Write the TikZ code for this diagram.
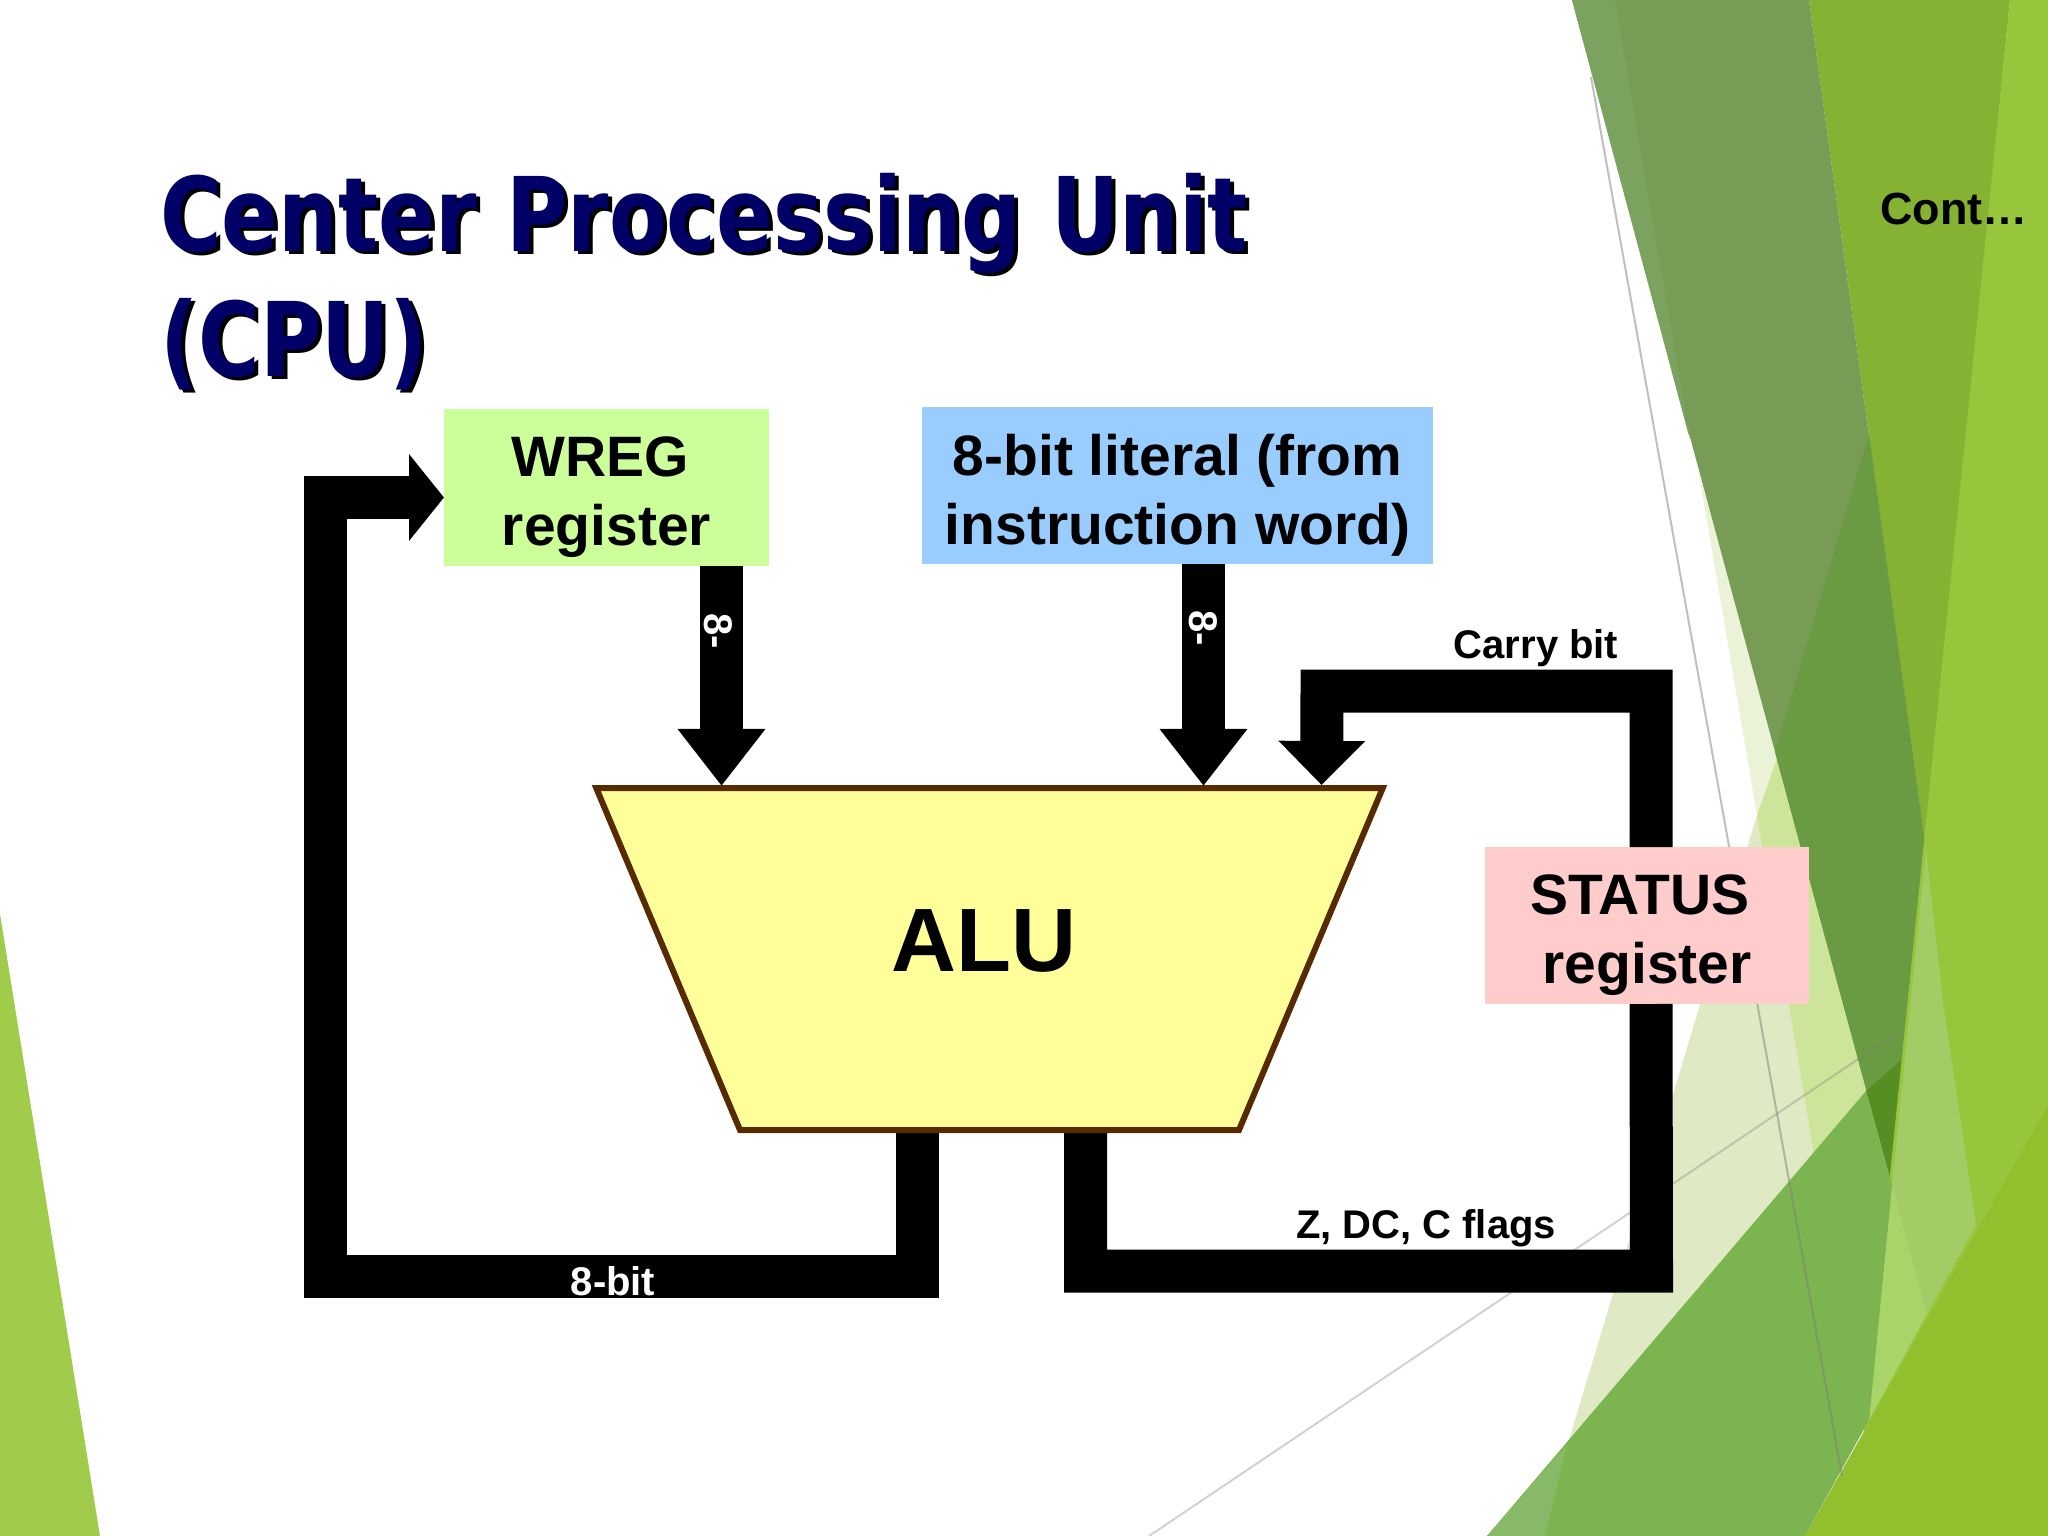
\documentclass[tikz,border=0pt]{standalone}
\usepackage{fontspec}
\usepackage{tikz}
\usetikzlibrary{arrows.meta,shapes.geometric}
\setmainfont{Liberation Sans}
\newfontfamily\titlefont[FakeStretch=0.815]{DejaVu Sans}
\newcommand{\regstrut}{\rule{0pt}{60pt}}
\definecolor{titleblue}{HTML}{000066}
\definecolor{wregfill}{HTML}{CCFF99}
\definecolor{literalfill}{HTML}{99CCFF}
\definecolor{statusfill}{HTML}{FFCCCC}
\definecolor{alufill}{HTML}{FFFF99}
\definecolor{aluedge}{HTML}{572A00}
\begin{document}
\begin{tikzpicture}[x=1pt,y=-1pt,
    regbox/.style={minimum width=325pt,minimum height=157pt,inner sep=0pt,outer sep=0pt,align=center,font=\bfseries\fontsize{57}{69}\selectfont},
    busline/.style={line width=43pt,line cap=butt,line join=miter,color=black},
    bighead/.style={-{Triangle[width=84pt,length=57pt]}},
    smallhead/.style={-{Triangle[width=84pt,length=44pt]}},
    shorthead/.style={-{Triangle[width=85pt,length=35pt]}},
    buslabel/.style={font=\bfseries\fontsize{40}{48}\selectfont,inner sep=0pt},
    titletext/.style={anchor=base west,inner sep=0pt,font=\titlefont\bfseries\fontsize{103}{124}\selectfont}]
    \useasboundingbox (0,0) rectangle (2048,1536);
    \fill[white] (0,0) rectangle (2048,1536);
    \fill[color={rgb,255:red,160;green,203;blue,75}] (0,914) -- (100,1536) -- (0,1536) -- cycle;
    \fill[color={rgb,255:red,234;green,242;blue,216}] (1699,474) -- (1757,815) -- (1780,750) -- cycle;
    \fill[color={rgb,255:red,223;green,233;blue,195}] (1757,815) -- (1560,1470) -- (1830,1160) -- cycle;
    \fill[color={rgb,255:red,205;green,229;blue,154}] (1757,815) -- (1780,750) -- (1875,1091) -- (1820,1190) -- cycle;
    \fill[color={rgb,255:red,133;green,178;blue,51}] (1809,0) -- (2010,0) -- (1926,850) -- cycle;
    \fill[color={rgb,255:red,120;green,156;blue,86}] (1572,0) -- (1809,0) -- (1926,850) -- (1892,1185) -- cycle;
    \fill[color={rgb,255:red,123;green,163;blue,95}] (1572,0) -- (1615,0) -- (1690,440) -- cycle;
    \fill[color={rgb,255:red,106;green,154;blue,66}] (1869,434) -- (1775,752) -- (1892,1185) -- (1926,850) -- cycle;
    \fill[color={rgb,255:red,85;green,143;blue,36}] (1866,1091) -- (1917,1046) -- (1892,1185) -- cycle;
    \fill[color={rgb,255:red,151;green,198;blue,61}] (2010,0) -- (2048,0) -- (2048,1536) -- (1853,1536) -- cycle;
    \fill[color={rgb,255:red,163;green,204;blue,102}] (1926,850) -- (1943,1002) -- (1976,1225) -- (1927,1314) -- (1892,1185) -- cycle;
    \fill[color={rgb,255:red,168;green,212;blue,106}] (1892,1185) -- (1927,1314) -- (1869,1420) -- cycle;
    \fill[color={rgb,255:red,146;green,191;blue,46}] (2048,1105) -- (2048,1536) -- (1805,1536) -- cycle;
    \fill[color={rgb,255:red,124;green,180;blue,80}] (1487,1536) -- (1866,1091) -- (1892,1185) -- (1869,1420) -- (1805,1536) -- cycle;
    \fill[color={rgb,255:red,135;green,185;blue,104}] (1487,1536) -- (1567,1445) -- (1545,1536) -- cycle;
    \draw[line width=2pt,color=gray,opacity=0.5] (1591,77) -- (1842,1476);
    \draw[line width=2pt,color=gray,opacity=0.35] (1149,1536) -- (1900,1031);
    \node[titletext,color=black] (titleshadow) at (164,254) {Center Processing Unit};
    \node[titletext,color=titleblue] (title) at (160,251) {Center Processing Unit};
    \node[titletext,color=black] (cpushadow) at (164,379) {(CPU)};
    \node[titletext,color=titleblue] (cpu) at (160,376) {(CPU)};
    \node[anchor=base west,inner sep=0pt,font=\bfseries\fontsize{45}{54}\selectfont] (cont) at (1880,224) {Cont…};
    \node[regbox,fill=wregfill] (wreg) at (606.5,487.5) {\regstrut WREG\hspace*{13pt}\\register};
    \node[regbox,fill=literalfill,minimum width=511pt] (literal) at (1177.5,485.5) {\regstrut 8-bit literal (from\\instruction word)};
    \node[regbox,fill=statusfill,minimum width=324pt] (status) at (1647,925.5) {\regstrut STATUS\hspace*{14pt}\\register};
    \node[trapezium,shape border rotate=180,trapezium angle=67.2,text width=499pt,text height=342pt,text depth=0pt,inner sep=0pt,outer sep=0pt,draw=aluedge,line width=6pt,fill=alufill] (alu) at (989.5,959) {};
    \node[inner sep=0pt,font=\bfseries\fontsize{90}{108}\selectfont] (alutext) at (984,941) {ALU};
    \draw[busline,bighead] ([xshift=115pt]wreg.south) -- ([xshift=-268pt,yshift=2pt]alu.north);
    \draw[busline,bighead] ([xshift=26pt]literal.south) -- ([xshift=214pt,yshift=2pt]alu.north);
    \draw[busline,smallhead] (status.north) ++(4,0) -- ++(0,-156) -- ++(-329,0) -- ([xshift=332pt,yshift=3pt]alu.north);
    \draw[busline,shorthead] ([xshift=-72pt,yshift=-3pt]alu.south) -- ++(0,143) -- ++(-592,0) |- ([yshift=-10pt]wreg.west);
    \draw[busline] ([xshift=96pt,yshift=-3pt]alu.south) -- ++(0,138) -- ++(566,0) -- ([xshift=4pt]status.south);
    \node[buslabel,color=white,rotate=-90] (wregwidth) at (718,631) {8-};
    \node[buslabel,color=white,rotate=-90] (literalwidth) at (1203,628) {8-};
    \node[buslabel,color=white] (resultwidth) at (613,1281) {8-bit};
    \node[buslabel] (carrylabel) at (1536,648) {Carry bit};
    \node[buslabel] (flagslabel) at (1426,1228) {Z, DC, C flags};
\end{tikzpicture}
\end{document}
